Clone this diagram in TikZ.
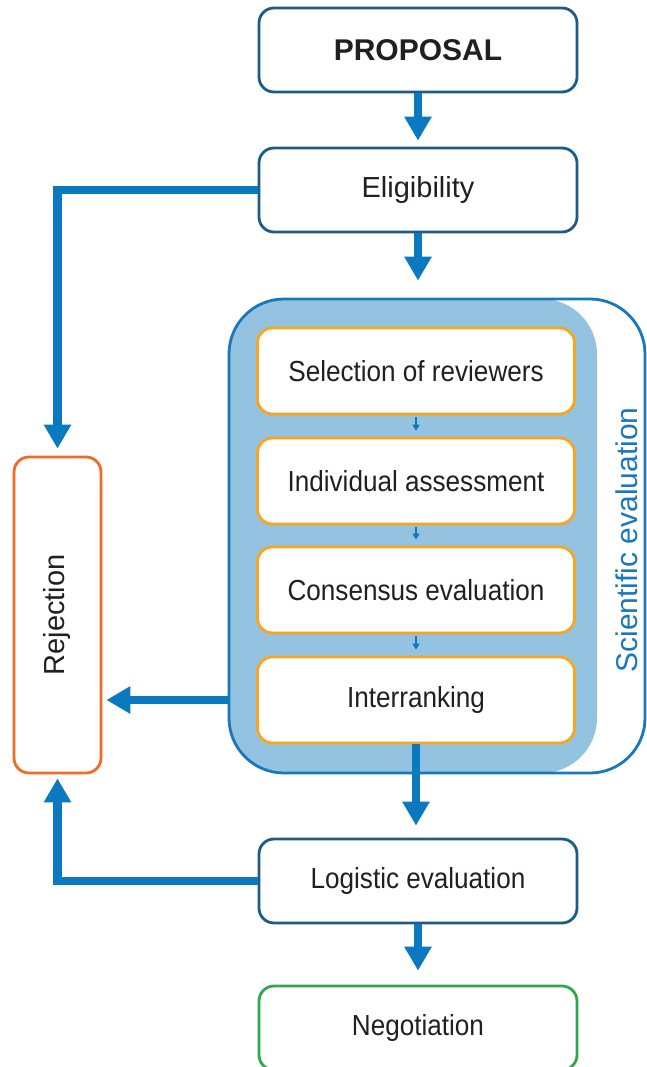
\documentclass[tikz,border=0pt]{standalone}
\usepackage{fontspec}
\setmainfont{Liberation Sans}
\newfontfamily\narrowfont[FakeStretch=0.9]{Liberation Sans}
\usetikzlibrary{arrows.meta}
\definecolor{boxblue}{HTML}{1D5C88}
\definecolor{arrowblue}{HTML}{0B79BF}
\definecolor{scifill}{HTML}{93C3E0}
\definecolor{sciline}{HTML}{1877BD}
\definecolor{stepor}{HTML}{F8A51F}
\definecolor{rejred}{HTML}{F26A25}
\definecolor{negogreen}{HTML}{2EA84B}
\definecolor{textgray}{HTML}{231F20}

\tikzset{
	box/.style={draw=boxblue, line width=2.8pt, rounded corners=15pt, fill=white,
		minimum width=318pt, minimum height=84pt, inner sep=0pt, text=textgray,
		font=\fontsize{29}{34}\selectfont},
	stepbox/.style={box, draw=stepor, minimum width=317pt, minimum height=86pt,
		font=\fontsize{29}{34}\selectfont\narrowfont},
	flow/.style={arrowblue, line width=8.5pt, -{Triangle[length=24pt,width=26pt]}},
	smallflow/.style={arrowblue, line width=1.6pt, -{Triangle[length=6pt,width=7pt]}},
}

\begin{document}
\begin{tikzpicture}[x=1pt, y=-1pt]
		      \useasboundingbox (0,0) rectangle (646,1067);
		      \node[box, font=\fontsize{30}{34}\selectfont\bfseries] (prop) at (418,50) {PROPOSAL};
		      \node[box] (elig) at (418,190) {Eligibility};
		      % scientific evaluation block
		      \node[fill=scifill, rounded corners=55pt, minimum width=368pt, minimum height=474pt, inner sep=0pt] (scibg) at (413,536) {};
		      \node[draw=sciline, line width=2.8pt, rounded corners=55pt, minimum width=416pt, minimum height=474pt, inner sep=0pt] (sci) at (437,536) {};
		      \node[text=sciline, rotate=90, font=\fontsize{30}{34}\selectfont] (scilabel) at (627,540) {Scientific evaluation};
		      \node[stepbox] (sel) at (416,371) {Selection of reviewers};
		      \node[stepbox] (ind) at (416,481) {Individual assessment};
		      \node[stepbox] (cons) at (416,590) {Consensus evaluation};
		      \node[stepbox] (inter) at (416,700) {Interranking};
		      \node[box, draw=rejred, minimum width=87pt, minimum height=316pt] (rej) at (57.5,615) {};
		      \node[rotate=90, text=textgray, font=\fontsize{29}{34}\selectfont] (rejtext) at (rej.center) {Rejection};
		      \node[box, font=\fontsize{29}{34}\selectfont\narrowfont] (logi) at (418,881) {Logistic evaluation};
		      \node[box, draw=negogreen, font=\fontsize{29}{34}\selectfont\narrowfont] (nego) at (418,1028) {Negotiation};
		      \draw[flow, shorten >=6pt] (prop.south) -- (prop.south |- elig.north);
		      \draw[flow, shorten >=17pt] (elig.south) -- (elig.south |- sci.north);
		      \draw[flow, shorten >=7pt] (elig.west) -| (rej.north);
		      \foreach \a/\b in {sel/ind, ind/cons, cons/inter}
		      	\draw[smallflow, shorten <=2pt, shorten >=6pt] (\a.south) -- (\b.north);
		      \draw[flow, shorten >=4pt] (inter.west -| sci.west) -- (inter.west -| rej.east);
		      \draw[flow, shorten >=12pt] (inter.south) -- (inter.south |- logi.north);
		      \draw[flow, shorten >=4pt] (logi.west) -| (rej.south);
		      \draw[flow, shorten >=14pt] (logi.south) -- (logi.south |- nego.north);

	      \end{tikzpicture}
\end{document}
